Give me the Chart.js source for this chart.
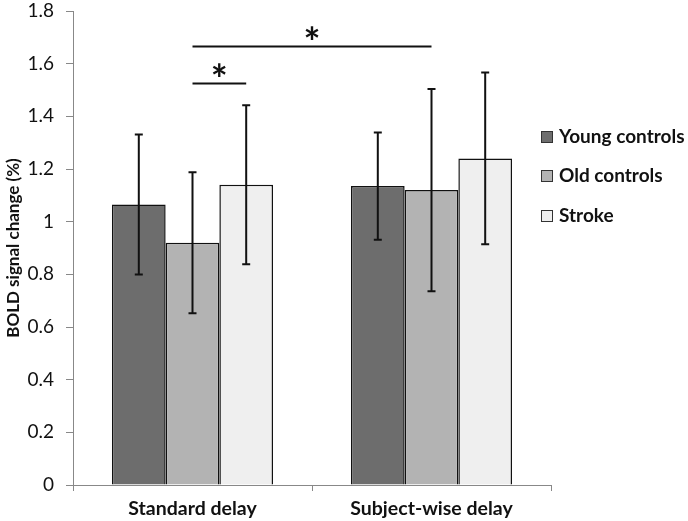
<!DOCTYPE html>
<html>
<head>
<meta charset="utf-8">
<script src="https://cdn.jsdelivr.net/npm/chart.js@4/dist/chart.umd.min.js"></script>
<style>
  html, body { margin: 0; padding: 0; background: #fff; }
  #wrap { position: relative; width: 688px; height: 521px; }
  #c { position: absolute; left: 0; top: 0; }
  .lg { position: absolute; left: 541px; font-family: Lato, "Open Sans", sans-serif; font-weight: bold; font-size: 19px; color: #111; white-space: nowrap; line-height: 22px; }
  .lg span.sw { display: inline-block; width: 10px; height: 10px; border: 1px solid #333; margin-right: 6px; vertical-align: 0px; }
</style>
</head>
<body>
<div id="wrap">
  <canvas id="c" width="688" height="521"></canvas>
  <div id="legend"></div>
</div>
<script>
// ---- data ----
const categories = ['Standard delay', 'Subject-wise delay'];
const seriesNames = ['Young controls', 'Old controls', 'Stroke'];
const youngMean = [1.065, 1.135];
const oldMean = [0.92, 1.12];
const strokeMean = [1.14, 1.24];
const youngErr = [0.266, 0.204];
const oldErr = [0.268, 0.384];
const strokeErr = [0.302, 0.326];
const yTickLabels = ['0', '0.2', '0.4', '0.6', '0.8', '1', '1.2', '1.4', '1.6', '1.8'];
// significance brackets: [datasetIndex, categoryIndex] -> [datasetIndex, categoryIndex], level
const sigFrom = [[1, 0], [1, 0]];
const sigTo = [[1, 1], [2, 0]];
const sigLevel = [1.668, 1.525];
const sigText = ['*', '*'];

const colors = ['#6d6d6d', '#b3b3b3', '#efefef'];
const means = [youngMean, oldMean, strokeMean];
const errs = [youngErr, oldErr, strokeErr];

// HTML legend
const legendTops = [125, 164, 204];
const lg = document.getElementById('legend');
seriesNames.forEach((n, i) => {
  const d = document.createElement('div');
  d.className = 'lg';
  d.style.top = legendTops[i] + 'px';
  d.innerHTML = '<span class="sw" style="background:' + colors[i] + '"></span>' + n;
  lg.appendChild(d);
});

const errorBarPlugin = {
  id: 'errorBars',
  afterDatasetsDraw(chart) {
    const ctx = chart.ctx;
    const y = chart.scales.y;
    ctx.save();
    ctx.strokeStyle = '#111';
    ctx.lineWidth = 2;
    chart.data.datasets.forEach((ds, di) => {
      const meta = chart.getDatasetMeta(di);
      meta.data.forEach((bar, i) => {
        const m = ds.data[i], e = errs[di][i];
        const yt = y.getPixelForValue(m + e), yb = y.getPixelForValue(m - e);
        const x = bar.x;
        ctx.beginPath();
        ctx.moveTo(x, yt); ctx.lineTo(x, yb);
        ctx.moveTo(x - 4, yt); ctx.lineTo(x + 4, yt);
        ctx.moveTo(x - 4, yb); ctx.lineTo(x + 4, yb);
        ctx.stroke();
      });
    });
    // significance brackets
    ctx.lineWidth = 1.8;
    ctx.fillStyle = '#111';
    ctx.font = 'bold 40px Lato, sans-serif';
    ctx.textAlign = 'center';
    ctx.textBaseline = 'middle';
    sigLevel.forEach((lv, k) => {
      const a = chart.getDatasetMeta(sigFrom[k][0]).data[sigFrom[k][1]];
      const b = chart.getDatasetMeta(sigTo[k][0]).data[sigTo[k][1]];
      const py = Math.round(y.getPixelForValue(lv)) + 0.5;
      ctx.beginPath();
      ctx.moveTo(a.x, py); ctx.lineTo(b.x, py);
      ctx.stroke();
      ctx.fillText(sigText[k], (a.x + b.x) / 2, py - 2);
    });
    ctx.restore();
  }
};

new Chart(document.getElementById('c'), {
  type: 'bar',
  data: {
    labels: categories,
    datasets: seriesNames.map((n, i) => ({
      label: n,
      data: means[i],
      backgroundColor: colors[i],
      borderColor: '#111',
      borderWidth: 1.5,
      categoryPercentage: 0.674,
      barPercentage: 1.0
    }))
  },
  options: {
    responsive: false,
    animation: false,
    events: [],
    layout: { padding: { left: 0, right: 137, top: 11, bottom: 0 } },
    plugins: { legend: { display: false }, tooltip: { enabled: false } },
    scales: {
      x: {
        grid: { display: true, drawOnChartArea: false, offset: true, color: '#888', tickLength: 6 },
        border: { display: true, color: '#888', width: 1 },
        ticks: { color: '#111', padding: 6, font: { family: 'Lato', size: 19.5, weight: 'bold' } },
        afterFit(s) { s.height = 36; s.paddingLeft = 0; s.paddingRight = 0; }
      },
      y: {
        min: 0, max: 1.8,
        ticks: {
          stepSize: 0.2, color: '#111', padding: 12,
          font: { family: 'Lato', size: 19 },
          callback: (v, i) => yTickLabels[i]
        },
        grid: { display: true, drawOnChartArea: false, color: '#888', tickLength: 7 },
        border: { display: true, color: '#888', width: 1 },
        title: { display: true, text: 'BOLD signal change (%)', color: '#111', font: { family: 'Lato', size: 17, weight: 'bold' }, padding: { top: 3, bottom: 0 } },
        afterFit(s) { s.width = 73; s.paddingTop = 0; s.paddingBottom = 0; }
      }
    }
  },
  plugins: [errorBarPlugin]
});
</script>
</body>
</html>
